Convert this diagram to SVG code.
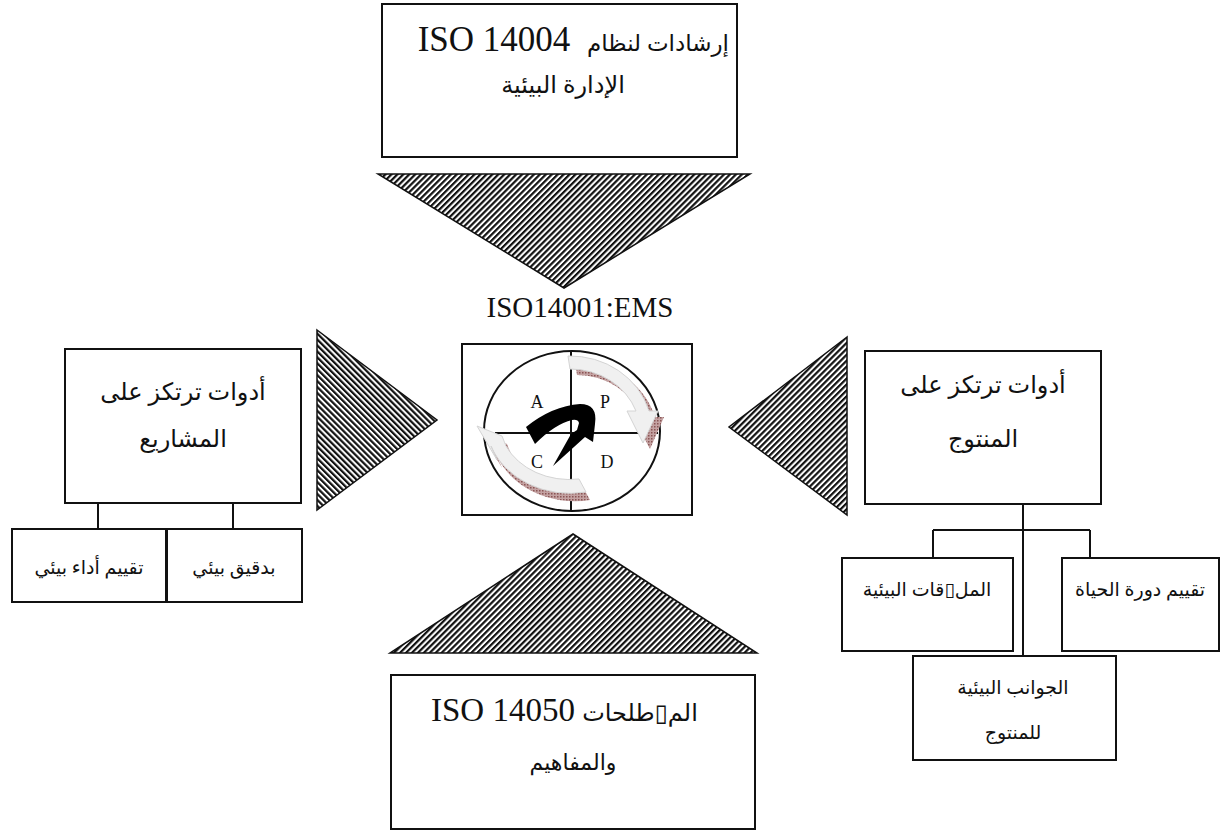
<svg xmlns="http://www.w3.org/2000/svg" width="1220" height="831" viewBox="0 0 1220 831">
  <defs>
    <!-- diagonal hatch fills for the big pointer triangles -->
    <pattern id="hatchUp" patternUnits="userSpaceOnUse" width="4.2" height="10" patternTransform="rotate(45)">
      <rect x="0" y="0" width="4.2" height="10" fill="#fff"/>
      <rect x="0" y="0" width="2.2" height="10" fill="#111"/>
    </pattern>
    <pattern id="hatchDown" patternUnits="userSpaceOnUse" width="4.2" height="10" patternTransform="rotate(-45)">
      <rect x="0" y="0" width="4.2" height="10" fill="#fff"/>
      <rect x="0" y="0" width="2.2" height="10" fill="#111"/>
    </pattern>
    <pattern id="shadowDots" patternUnits="userSpaceOnUse" width="3" height="3">
      <rect width="3" height="3" fill="#c4a2a2"/>
      <rect width="1.5" height="1.5" fill="#8a5555"/>
    </pattern>
  </defs>
  <style>
    .box { fill: #fff; stroke: #111; stroke-width: 2; }
    .tri { stroke: #111; stroke-width: 1.5; }
    .line { stroke: #111; stroke-width: 2; fill: none; }
    .ar { font-family: "Liberation Serif", "DejaVu Sans", serif; fill: #111; direction: rtl; text-anchor: middle; }
    .lat { font-family: "Liberation Serif", serif; fill: #111; text-anchor: middle; }
    .cyc { fill: #f0f0f0; stroke: #d4d4d4; stroke-width: 1; }
  </style>

  <rect width="1220" height="831" fill="#fff"/>

  <!-- hatched pointer triangles and tree connectors -->
  <g id="connectors">
    <polygon class="tri" fill="url(#hatchUp)" points="378,174 750,174 564,288"/>
    <polygon class="tri" fill="url(#hatchDown)" points="317,330 437,420 317,510"/>
    <polygon class="tri" fill="url(#hatchUp)" points="847,337 729,427 847,515"/>
    <polygon class="tri" fill="url(#hatchUp)" points="573,534 757,653 390,653"/>

    <!-- project tools branch -->
    <line class="line" x1="98" y1="503" x2="98" y2="529"/>
    <line class="line" x1="233" y1="503" x2="233" y2="529"/>

    <!-- product tools branch -->
    <line class="line" x1="1023" y1="504" x2="1023" y2="656"/>
    <line class="line" x1="933" y1="530" x2="1090" y2="530"/>
    <line class="line" x1="933" y1="530" x2="933" y2="558"/>
    <line class="line" x1="1090" y1="530" x2="1090" y2="558"/>
  </g>

  <!-- ISO 14004 guidance -->
  <g id="iso14004">
    <rect class="box" x="382" y="4" width="355" height="153"/>
    <text class="lat" x="494" y="51" font-size="35">ISO 14004</text>
    <text class="ar" x="658" y="51" font-size="23">إرشادات لنظام</text>
    <text class="ar" x="563" y="93" font-size="24">الإدارة البيئية</text>
  </g>

  <!-- central EMS with the PDCA cycle -->
  <g id="ems">
    <text class="lat" x="580" y="317" font-size="29">ISO14001:EMS</text>
    <rect class="box" x="462" y="344" width="230" height="171"/>
    <ellipse cx="572" cy="431" rx="88" ry="80" fill="none" stroke="#111" stroke-width="2"/>
    <line class="line" x1="571" y1="352" x2="571" y2="510"/>
    <line class="line" x1="495" y1="433" x2="658" y2="433"/>

    <!-- top-right cycle arrow (shadow then body) -->
    <path d="M 572,359 A 82,76 0 0 1 652,414 L 661,414 L 647,446 L 630,414 L 639,414 A 70,64 0 0 0 574,372 Z" fill="url(#shadowDots)" transform="translate(3,3)"/>
    <path d="M 568,356 A 82,76 0 0 1 649,411 L 658,411 L 643,443 L 627,411 L 636,411 A 70,64 0 0 0 570,369 Z" class="cyc"/>

    <!-- bottom-left cycle arrow (shadow then body) -->
    <path d="M 588,496 A 84,72 0 0 1 494,450 L 500,464 L 480,430 L 505,440 L 509,450 A 70,58 0 0 0 581,483 Z" fill="url(#shadowDots)" transform="translate(2,4)"/>
    <path d="M 586,492 A 84,72 0 0 1 491,446 L 497,460 L 477,426 L 502,436 L 506,446 A 70,58 0 0 0 579,479 Z" class="cyc"/>

    <!-- black centre arrow -->
    <path d="M 535,444 L 526,427 Q 552,406 580,404 Q 598,404 595,424 L 593,442 L 585,437 L 553,466 L 571,434 L 577,430 L 579,423 Q 578,419 572,420 Q 555,424 535,444 Z" fill="#000"/>

    <text class="lat" x="537" y="408" font-size="18">A</text>
    <text class="lat" x="605" y="408" font-size="18">P</text>
    <text class="lat" x="537" y="468" font-size="18">C</text>
    <text class="lat" x="607" y="468" font-size="18">D</text>
  </g>

  <!-- project-oriented tools -->
  <g id="projectTools">
    <rect class="box" x="65" y="349" width="236" height="154"/>
    <text class="ar" x="183" y="400" font-size="24">أدوات ترتكز على</text>
    <text class="ar" x="183" y="447" font-size="24">المشاريع</text>
  </g>
  <g id="performanceEval">
    <rect class="box" x="12" y="529" width="154" height="73"/>
    <text class="ar" x="89" y="574" font-size="19">تقييم أداء بيئي</text>
  </g>
  <g id="envAudit">
    <rect class="box" x="167" y="529" width="135" height="73"/>
    <text class="ar" x="234" y="574" font-size="19">بدقيق بيئي</text>
  </g>

  <!-- product-oriented tools -->
  <g id="productTools">
    <rect class="box" x="865" y="351" width="236" height="153"/>
    <text class="ar" x="983" y="393" font-size="24">أدوات ترتكز على</text>
    <text class="ar" x="983" y="447" font-size="24">المنتوج</text>
  </g>
  <g id="envLabels">
    <rect class="box" x="842" y="558" width="171" height="93"/>
    <text class="ar" x="927" y="596" font-size="19">المل▯قات البيئية</text>
  </g>
  <g id="lifeCycle">
    <rect class="box" x="1062" y="558" width="157" height="93"/>
    <text class="ar" x="1140" y="596" font-size="19">تقييم دورة الحياة</text>
  </g>
  <g id="productAspects">
    <rect class="box" x="913" y="656" width="203" height="104"/>
    <text class="ar" x="1013" y="694" font-size="19">الجوانب البيئية</text>
    <text class="ar" x="1013" y="739" font-size="19">للمنتوج</text>
  </g>

  <!-- ISO 14050 vocabulary -->
  <g id="iso14050">
    <rect class="box" x="391" y="675" width="364" height="154"/>
    <text class="lat" x="503" y="721" font-size="33">ISO 14050</text>
    <text class="ar" x="640" y="721" font-size="24">الم▯طلحات</text>
    <text class="ar" x="573" y="770" font-size="22">والمفاهيم</text>
  </g>
</svg>
